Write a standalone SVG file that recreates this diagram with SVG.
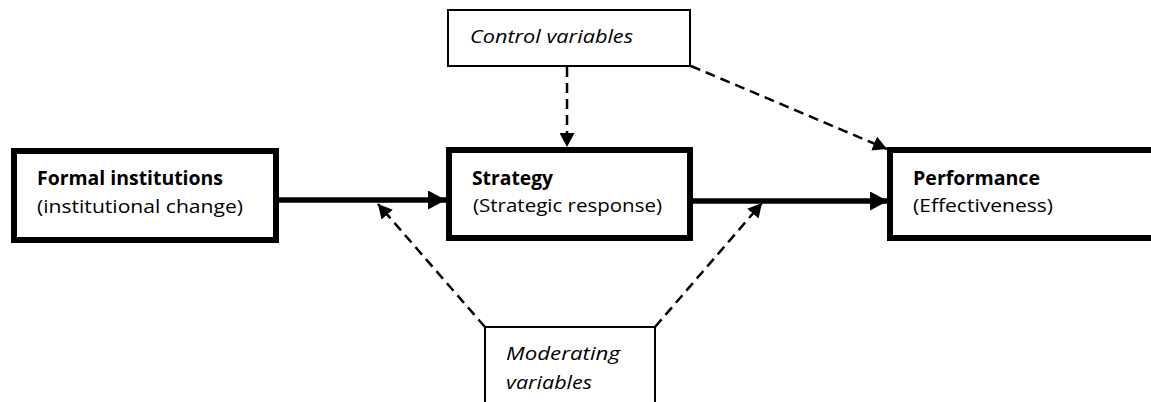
<svg xmlns="http://www.w3.org/2000/svg" width="1151" height="402" viewBox="0 0 1151 402">
  <style>
    .thick { fill: #ffffff; stroke: #000000; stroke-width: 6; }
    .thin { fill: #ffffff; stroke: #000000; stroke-width: 2; }
    .t { font-family: "Open Sans", "Liberation Sans", sans-serif; font-size: 19px; fill: #000000; }
    .b { font-weight: bold; }
    .i { font-style: italic; }
    .solid { stroke: #000000; stroke-width: 5.5; fill: none; }
    .dash { stroke: #000000; stroke-width: 2.5; fill: none; stroke-dasharray: 10 6; }
  </style>
  <defs>
    <marker id="ahS" markerUnits="userSpaceOnUse" viewBox="0 0 18 19" refX="18" refY="9.5" markerWidth="18" markerHeight="19" orient="auto">
      <path d="M0,0 L18,9.5 L0,19 z" fill="#000000"/>
    </marker>
    <marker id="ahD" markerUnits="userSpaceOnUse" viewBox="0 0 14 15" refX="14" refY="7.5" markerWidth="14" markerHeight="15" orient="auto">
      <path d="M0,0 L14,7.5 L0,15 z" fill="#000000"/>
    </marker>
  </defs>
  <rect x="0" y="0" width="1151" height="402" fill="#ffffff"/>

  <g id="connectors">
    <line class="solid" x1="279" y1="200" x2="446" y2="200" marker-end="url(#ahS)"/>
    <line class="solid" x1="693" y1="201" x2="888" y2="201" marker-end="url(#ahS)"/>
    <line class="dash" x1="567" y1="67" x2="567" y2="147" marker-end="url(#ahD)"/>
    <line class="dash" x1="691" y1="66" x2="887" y2="149" marker-end="url(#ahD)"/>
    <line class="dash" x1="485" y1="327" x2="378" y2="204" marker-end="url(#ahD)"/>
    <line class="dash" x1="655" y1="327" x2="762" y2="203" marker-end="url(#ahD)"/>
  </g>

  <g id="formal-institutions">
    <rect class="thick" x="14" y="151" width="262" height="89"/>
    <text class="t b" x="37" y="185" textLength="186" lengthAdjust="spacingAndGlyphs">Formal institutions</text>
    <text class="t" x="37" y="213" textLength="206" lengthAdjust="spacingAndGlyphs">(institutional change)</text>
  </g>

  <g id="strategy">
    <rect class="thick" x="449" y="150" width="241" height="88"/>
    <text class="t b" x="472" y="185" textLength="81" lengthAdjust="spacingAndGlyphs">Strategy</text>
    <text class="t" x="473" y="212" textLength="189" lengthAdjust="spacingAndGlyphs">(Strategic response)</text>
  </g>

  <g id="performance">
    <rect class="thick" x="890" y="150" width="280" height="88"/>
    <text class="t b" x="913" y="185" textLength="127" lengthAdjust="spacingAndGlyphs">Performance</text>
    <text class="t" x="913" y="212" textLength="140" lengthAdjust="spacingAndGlyphs">(Effectiveness)</text>
  </g>

  <g id="control-variables">
    <rect class="thin" x="448" y="10" width="242" height="56"/>
    <text class="t i" x="470" y="43" textLength="163" lengthAdjust="spacingAndGlyphs">Control variables</text>
  </g>

  <g id="moderating-variables">
    <rect class="thin" x="485" y="327" width="170" height="100"/>
    <text class="t i" x="506" y="360" textLength="114" lengthAdjust="spacingAndGlyphs">Moderating</text>
    <text class="t i" x="506" y="389" textLength="86" lengthAdjust="spacingAndGlyphs">variables</text>
  </g>
</svg>
